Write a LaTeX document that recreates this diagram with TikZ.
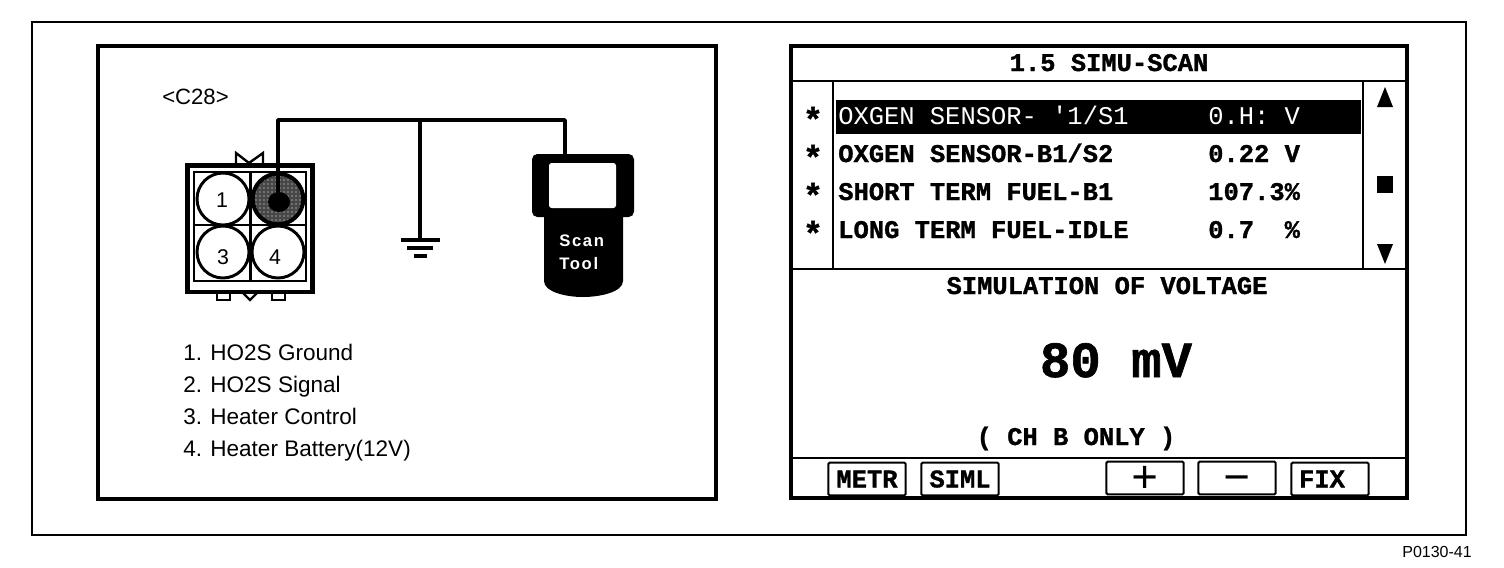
\documentclass[tikz,border=0pt]{standalone}
\usepackage{fontspec}
\setmainfont{Liberation Sans}
\newfontfamily\scr{Liberation Mono}[BoldFont={Liberation Mono Bold},BoldFeatures={FakeBold=1.2}]
\usetikzlibrary{calc,patterns}
\tikzset{
  framebox/.style={draw=black,line width=2.4pt,fill=white},
  thinframe/.style={draw=black,line width=1.6pt},
  rule/.style={line width=2.2pt},
  wire/.style={line width=2.6pt,line join=round},
  label/.style={inner sep=0pt,anchor=base west,font=\fontsize{16.9}{18}\selectfont},
  pinnum/.style={inner sep=0pt,font=\fontsize{16}{18}\selectfont},
  pin/.style={circle,draw=black,line width=2.2pt,minimum size=39pt,inner sep=0pt,fill=white},
  mono/.style={inner sep=0pt,anchor=base west,font=\scr\bfseries\fontsize{19.1}{20}\selectfont},
  monoc/.style={inner sep=0pt,anchor=base,font=\scr\bfseries\fontsize{19.1}{20}\selectfont},
  softkey/.style={draw=black,line width=1.5pt,rectangle,rounded corners=1pt,minimum width=58pt,minimum height=24.5pt,inner sep=0pt,font=\scr\bfseries\fontsize{19.1}{20}\selectfont},
  bigkey/.style={softkey,font=\scr\mdseries\fontsize{34}{34}\selectfont},
  star/.style={inner sep=0pt,font=\scr\bfseries\fontsize{25}{25}\selectfont},
  tooltext/.style={inner sep=0pt,anchor=base west,text=white,font=\bfseries\fontsize{12.5}{14}\selectfont\addfontfeature{LetterSpace=10}},
}
\begin{document}
\begin{tikzpicture}[x=0.75pt,y=-0.75pt]
\useasboundingbox (0,0) rectangle (1504,568);
% outer frame
\draw[thinframe] (32,22) rectangle (1466,535);
\node[inner sep=0pt,anchor=east,font=\fontsize{12}{14}\selectfont] (ref) at (1472,552) {P0130-41};
% left panel
\draw[framebox] (98,46) rectangle (716,499);
\node[inner sep=0pt,anchor=base west,font=\fontsize{16.6}{18}\selectfont] (c28) at (162,104) {<C28>};
% connector body
\draw[line width=1.8pt,line join=miter] (236,165) -- (236,153) -- (249,163) -- (263,153) -- (263,165);
\draw[line width=1.8pt,fill=white] (217,292) -- (217,300) -- (230,300) -- (230,292);
\draw[line width=1.8pt,fill=white] (272,292) -- (272,300) -- (285,300) -- (285,292);
\draw[line width=1.8pt] (242,292) -- (250,300) -- (258,292);
\draw[line width=3.2pt,fill=white] (187.5,165.5) rectangle (312.5,292);
\draw[line width=1.8pt] (194,172) rectangle (306,281);
\draw[line width=1.8pt] (250.5,172) -- (250.5,281) (194,225) -- (306,225);
\node[pin] (p1) at (223,199) {};
\node[pin,line width=3pt,minimum size=38pt,preaction={fill=black!72},pattern=dots,pattern color=white] (p2) at (278,199) {};
\node[pin] (p3) at (223,252) {};
\node[pin] (p4) at (278,252) {};
\fill[black] (279,202) ellipse (11 and 10);
\node[pinnum] (n1) at (222,200) {1};
\node[pinnum] (n2) at (279,201) {2};
\node[pinnum] (n3) at (223,257) {3};
\node[pinnum] (n4) at (275,257) {4};
% ground
\coordinate (gnd) at (420,240);
\draw[line width=3pt] (401,240) -- (440,240);
\draw[line width=2.4pt] (407,248) -- (433,248);
\draw[line width=2.4pt] (414,256) -- (427,256);
% scan tool
\coordinate (tooltop) at (565,154);
\fill[black] (544,210) -- (623,210) -- (623,281) .. controls (623,292) and (600,297) .. (583,297) .. controls (566,297) and (544,292) .. (544,281) -- cycle;
\fill[black,rounded corners=4pt] (532,154) rectangle (634,217);
\fill[white,rounded corners=2pt] (549,163) rectangle (616,208);
\node[tooltext] (scan) at (559,246) {Scan};
\node[tooltext] (tool) at (559,269) {Tool};
% wires
\coordinate (tap) at (420,120);
\draw[wire] (p2.center) -- (p2.center |- tap) -- (tooltop |- tap) -- (tooltop);
\draw[wire] (tap) -- (gnd);
% legend
\node[label] (l1) at (183,360) {1. HO2S Ground};
\node[label] (l2) at (183,392) {2. HO2S Signal};
\node[label] (l3) at (183,424) {3. Heater Control};
\node[label] (l4) at (183,456) {4. Heater Battery(12V)};
% right panel
\draw[framebox] (791,46) rectangle (1407,498);
\draw[rule] (791,81) -- (1407,81);
\draw[rule] (791,269) -- (1407,269);
\draw[rule] (791,458) -- (1407,458);
\draw[rule] (833,81) -- (833,269);
\draw[rule] (1363,81) -- (1363,269);
\node[monoc] (title) at (1109,71) {1.5 SIMU-SCAN};
\fill[black] (836,100) rectangle (1361,134);
\node[star] (s1) at (813,119) {*};
\node[star] (s2) at (813,157) {*};
\node[star] (s3) at (813,195) {*};
\node[star] (s4) at (813,233) {*};
\node[mono,text=white,font=\scr\fontsize{19.1}{20}\selectfont] (r1) at (838,124) {OXGEN SENSOR- '1/S1};
\node[mono,text=white,font=\scr\fontsize{19.1}{20}\selectfont] (v1) at (1208,124) {0.H: V};
\node[mono] (r2) at (838,162) {OXGEN SENSOR-B1/S2};
\node[mono] (v2) at (1208,162) {0.22 V};
\node[mono] (r3) at (838,200) {SHORT TERM FUEL-B1};
\node[mono] (v3) at (1208,200) {107.3\%};
\node[mono] (r4) at (838,238) {LONG TERM FUEL-IDLE};
\node[mono] (v4) at (1208,238) {0.7\ \ \%};
\fill[black] (1385,87) -- (1393,107) -- (1377,107) -- cycle;
\fill[black] (1377,176) rectangle (1393,193);
\fill[black] (1377,244) -- (1393,244) -- (1385,264) -- cycle;
\node[monoc] (sim) at (1107,294) {SIMULATION OF VOLTAGE};
\node[inner sep=0pt,anchor=base,font=\scr\bfseries\fontsize{38}{40}\selectfont] (mv) at (1116,377) {80 mV};
\node[monoc] (ch) at (1076,445) {( CH B ONLY )};
\node[softkey] (b1) at (867,479) {METR};
\node[softkey] (b2) at (960,479) {SIML};
\node[bigkey] (b3) at (1145,478) {\smash{\raisebox{-.33em}{+}}};
\node[bigkey] (b4) at (1237,478) {\smash{\raisebox{-.33em}{−}}};
\node[softkey] (b5) at (1330,479) {\hbox{FIX\kern12pt}};
\end{tikzpicture}
\end{document}
